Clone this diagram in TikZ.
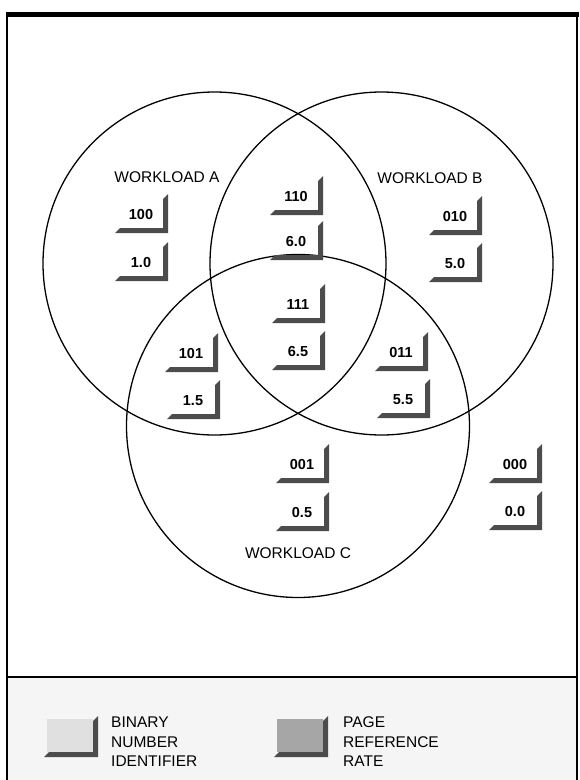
\documentclass[tikz,border=0pt]{standalone}
\usepackage{fontspec}
\setmainfont{Liberation Sans}
\newcommand\idbox[4]{%
  \node[numlbl] (#1) at (#2,#3) {#4};
  \begin{scope}[shift={(#2,#3)}]
    \fill[lshade] (27,-21) -- (27,18) -- (-26,18) -- (-21,13) -- (22,13) -- (22,-16) -- cycle;
  \end{scope}}
\begin{document}
\begin{tikzpicture}[x=1pt,y=-1pt,
  lshade/.style={fill=black!70, draw=none},
  numlbl/.style={font=\fontsize{14.5}{17}\selectfont\bfseries, inner sep=0},
  wl/.style={font=\fontsize{15.5}{18}\selectfont, inner sep=0},
  lg/.style={font=\fontsize{15.5}{18}\selectfont, inner sep=0, anchor=base west},
  venn/.style={circle, draw, line width=1.3pt, minimum size=343pt, inner sep=0},
]
\useasboundingbox (0,0) rectangle (579,780);
\fill[white] (0,0) rectangle (579,780);
% legend background
\fill[black!4] (7,677) rectangle (577,780);
% frame
\draw[line width=5pt] (7,14) -- (579,14);
\draw[line width=1.8pt] (7,12) -- (7,780);
\draw[line width=1.2pt] (577,14) -- (577,780);
\draw[line width=1.8pt] (7,677) -- (577,677);
% circles
\node[venn] (cA) at (214.5,263.5) {};
\node[venn] (cB) at (381.5,263.5) {};
\node[venn] (cC) at (298,426) {};
% workload labels
\node[wl] (wA) at (167,177) {WORKLOAD A};
\node[wl] (wB) at (430,178) {WORKLOAD B};
\node[wl] (wC) at (298,553) {WORKLOAD C};
% boxes
\idbox{b100}{141}{215}{100}
\idbox{r10}{141}{263}{1.0}
\idbox{b110}{296}{197}{110}
\idbox{r60}{296}{242}{6.0}
\idbox{b010}{455}{217}{010}
\idbox{r50}{455}{264}{5.0}
\idbox{b111}{298}{305}{111}
\idbox{r65}{298}{352}{6.5}
\idbox{b101}{191}{354}{101}
\idbox{r15}{193}{401}{1.5}
\idbox{b011}{401}{353}{011}
\idbox{r55}{403}{400}{5.5}
\idbox{b001}{302}{465}{001}
\idbox{r05}{302}{513}{0.5}
\idbox{b000}{515}{465}{000}
\idbox{r00}{515}{512}{0.0}
% legend
\fill[black!12] (47,719) rectangle (93,752);
\fill[lshade] (98,716) -- (98,757) -- (44,757) -- (49,752) -- (93,752) -- (93,721) -- cycle;
\node[lg] (l1a) at (111,727.5) {BINARY};
\node[lg] (l1b) at (111,747) {NUMBER};
\node[lg] (l1c) at (111,766.5) {IDENTIFIER};
\fill[black!35] (277,719) rectangle (323,752);
\fill[lshade] (328,716) -- (328,757) -- (274,757) -- (279,752) -- (323,752) -- (323,721) -- cycle;
\node[lg] (l2a) at (343,727.5) {PAGE};
\node[lg] (l2b) at (343,747) {REFERENCE};
\node[lg] (l2c) at (343,766.5) {RATE};
\end{tikzpicture}
\end{document}
